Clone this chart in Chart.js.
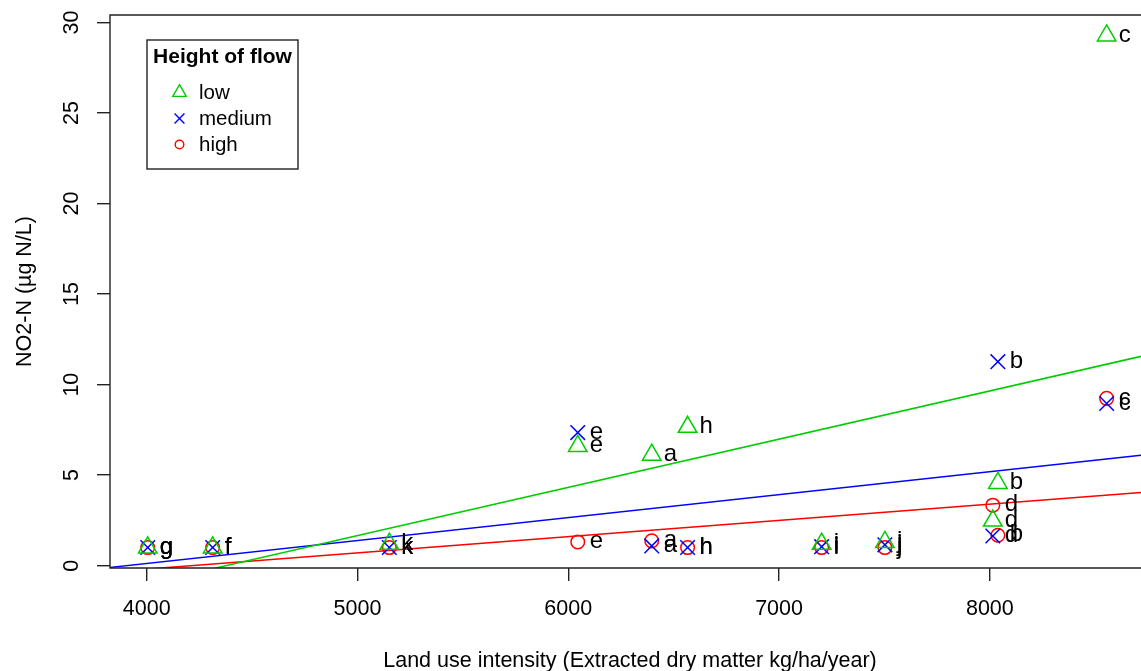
<!DOCTYPE html>
<html lang="en">
<head>
<meta charset="UTF-8">
<title>NO2-N and land use intensity</title>
<script src="https://cdn.jsdelivr.net/npm/chart.js@4"></script>
<style>
  html, body { margin: 0; padding: 0; background: #fff; overflow: hidden; }
  canvas { display: block; }
</style>
</head>
<body>
<canvas id="grafico" width="1141" height="671"></canvas>
<script>
// ================= DATA =================
const sites = ['a', 'b', 'c', 'd', 'e', 'f', 'g', 'h', 'i', 'j', 'k'];
const landUse = [6396, 8038, 8554, 8014, 6045, 4313, 4005, 6566, 7202, 7502, 5151];
const no2Low = [6.12, 4.56, 29.28, 2.48, 6.6, 1.0, 1.0, 7.66, 1.2, 1.3, 1.2];
const no2Medium = [1.09, 11.27, 8.96, 1.64, 7.35, 1.0, 1.0, 1.0, 1.05, 1.15, 1.0];
const no2High = [1.37, 1.68, 9.24, 3.34, 1.31, 1.0, 1.0, 1.0, 1.0, 1.0, 1.0];

// linear fits (low, medium, high): y = intercept + slope * x
const fitIntercept = [-11.66, -4.95, -3.78];
const fitSlope = [0.002664, 0.001268, 0.000897];

const flowNames = ['low', 'medium', 'high'];
const xTicks = [4000, 5000, 6000, 7000, 8000];
const yTicks = [0, 5, 10, 15, 20, 25, 30];

const xTitle = 'Land use intensity (Extracted dry matter kg/ha/year)';
const yTitle = 'NO2-N (\u00b5g N/L)';
const legendTitle = 'Height of flow';

// ================= STYLE =================
const FONT = '"Liberation Sans", Arial, Helvetica, sans-serif';
const colors = ['#00CD00', '#0000FF', '#FF0000'];
const styles = ['triangle', 'crossRot', 'circle'];
const radii = [10.7, 10.3, 6.8];
const legendRadii = [7.8, 7, 4.3];
const X_MIN = 3826, X_MAX = 8717;
const Y_MIN = -0.13, Y_MAX = 30.42;

const values = [no2Low, no2Medium, no2High];

const pointSets = values.map((vals, i) => ({
  label: flowNames[i],
  data: vals.map((v, j) => ({ x: landUse[j], y: v })),
  showLine: false,
  pointStyle: styles[i],
  pointRadius: radii[i],
  pointHoverRadius: radii[i],
  pointBorderColor: colors[i],
  pointBackgroundColor: 'rgba(0,0,0,0)',
  pointBorderWidth: 1.5,
  pointHoverBorderWidth: 1.5
}));

const fitSets = fitIntercept.map((a, i) => ({
  label: flowNames[i] + ' fit',
  data: [X_MIN, X_MAX].map(x => ({ x: x, y: a + fitSlope[i] * x })),
  showLine: true,
  borderColor: colors[i],
  borderWidth: 1.5,
  pointRadius: 0,
  pointHoverRadius: 0
}));

// box, tick labels, titles, site labels and legend in base-graphics style
const decor = {
  id: 'decor',
  afterDatasetsDraw(chart) {
    const ctx = chart.ctx;
    const area = chart.chartArea;
    const xs = chart.scales.x, ys = chart.scales.y;
    ctx.save();

    // site letters next to each point
    ctx.fillStyle = '#000';
    ctx.font = '24px ' + FONT;
    ctx.textAlign = 'left';
    ctx.textBaseline = 'alphabetic';
    for (let i = 0; i < pointSets.length; i++) {
      chart.getDatasetMeta(i).data.forEach((pt, j) => {
        ctx.fillText(sites[j], pt.x + 12, pt.y + 6.2);
      });
    }

    // plot box (right side runs off the canvas)
    ctx.strokeStyle = '#222';
    ctx.lineWidth = 1.4;
    ctx.beginPath();
    ctx.moveTo(area.right + 20, area.top);
    ctx.lineTo(area.left, area.top);
    ctx.lineTo(area.left, area.bottom);
    ctx.lineTo(area.right + 20, area.bottom);
    ctx.stroke();

    // tick labels
    ctx.font = '21.5px ' + FONT;
    ctx.textAlign = 'center';
    xTicks.forEach(v => {
      ctx.fillText(String(v), xs.getPixelForValue(v), 615);
    });
    yTicks.forEach(v => {
      ctx.save();
      ctx.translate(78, ys.getPixelForValue(v));
      ctx.rotate(-Math.PI / 2);
      ctx.fillText(String(v), 0, 0);
      ctx.restore();
    });

    // axis titles
    ctx.fillText(xTitle, 630, 667);
    ctx.save();
    ctx.translate(30.5, (area.top + area.bottom) / 2);
    ctx.rotate(-Math.PI / 2);
    ctx.fillText(yTitle, 0, 0);
    ctx.restore();

    // legend
    const lx = 147, ly = 40, lw = 151, lh = 129;
    ctx.fillStyle = '#fff';
    ctx.fillRect(lx, ly, lw, lh);
    ctx.strokeStyle = '#222';
    ctx.lineWidth = 1.4;
    ctx.strokeRect(lx, ly, lw, lh);
    ctx.fillStyle = '#000';
    ctx.font = 'bold 21px ' + FONT;
    ctx.textAlign = 'center';
    ctx.fillText(legendTitle, lx + lw / 2, 62.5);
    ctx.font = '20.5px ' + FONT;
    ctx.textAlign = 'left';
    flowNames.forEach((name, i) => {
      const base = 99 + i * 26;
      ctx.fillStyle = '#000';
      ctx.fillText(name, 199, base);
      ctx.strokeStyle = colors[i];
      ctx.fillStyle = 'rgba(0,0,0,0)';
      ctx.lineWidth = 1.4;
      Chart.helpers.drawPoint(ctx, {
        pointStyle: styles[i], rotation: 0, radius: legendRadii[i], borderWidth: 1.4
      }, 179.5, base - 6.5);
    });

    ctx.restore();
  }
};

const axisCommon = {
  type: 'linear',
  border: { display: false },
  grid: { drawOnChartArea: false, drawTicks: true, tickLength: 13, color: '#222', lineWidth: 1.4 },
  ticks: { display: false }
};

new Chart(document.getElementById('grafico'), {
  type: 'scatter',
  data: { datasets: [...pointSets, ...fitSets] },
  options: {
    responsive: false,
    animation: false,
    events: [],
    layout: { autoPadding: false, padding: { top: 15, right: 0, left: 0, bottom: 0 } },
    scales: {
      x: {
        ...axisCommon,
        min: X_MIN,
        max: X_MAX,
        afterBuildTicks: s => { s.ticks = xTicks.map(v => ({ value: v })); },
        afterFit: s => { s.height = 103; }
      },
      y: {
        ...axisCommon,
        min: Y_MIN,
        max: Y_MAX,
        afterBuildTicks: s => { s.ticks = yTicks.map(v => ({ value: v })); },
        afterFit: s => { s.width = 110; }
      }
    },
    plugins: {
      legend: { display: false },
      tooltip: { enabled: false }
    }
  },
  plugins: [decor]
});
</script>
</body>
</html>
